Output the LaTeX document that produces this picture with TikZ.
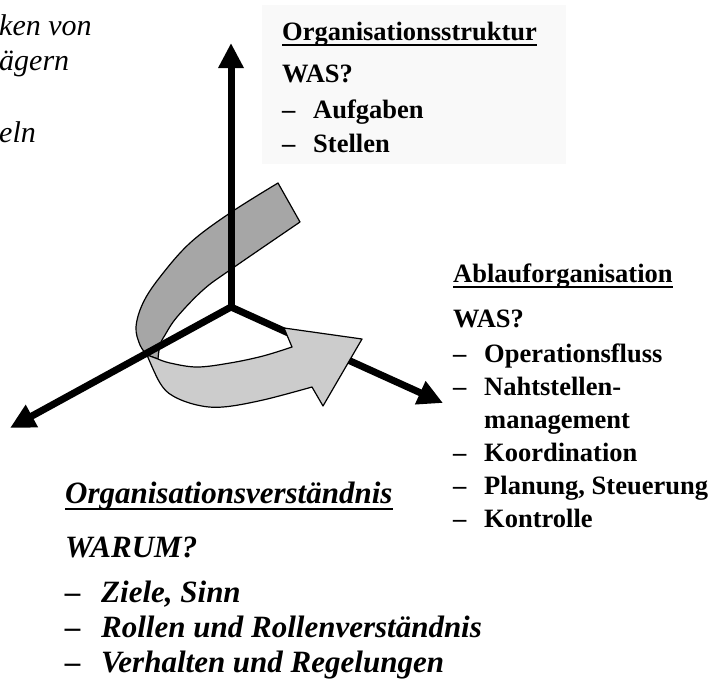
\documentclass[tikz,border=0pt]{standalone}
\usepackage{fontspec}
\setmainfont{Liberation Serif}
\usetikzlibrary{arrows.meta}
\definecolor{ribdark}{HTML}{A6A6A6}
\definecolor{riblight}{HTML}{CCCCCC}
\definecolor{boxbg}{HTML}{F9F9F9}
\begin{document}
\begin{tikzpicture}[x=1pt,y=-1pt,
  axisline/.style={line width=7pt, line cap=round, -{Triangle[width=24pt,length=25pt]}},
  ribbon/.style={draw=black, line width=1.2pt, line join=round},
  rtxt/.style={anchor=base west, inner sep=0pt, font=\fontsize{26.5}{32}\selectfont\bfseries},
  btxt/.style={anchor=base west, inner sep=0pt, font=\fontsize{31}{36}\selectfont\bfseries\itshape},
  ltxt/.style={anchor=base west, inner sep=0pt, font=\fontsize{30}{34}\selectfont\itshape},
  uline/.style={line width=2pt},
]
\useasboundingbox (0,0) rectangle (714,681);

% background box of Organisationsstruktur
\fill[boxbg] (262,5) rectangle (566,164);

% axes coordinates
\coordinate (O) at (231,307);
\coordinate (tipUp) at (231,43);
\coordinate (tipLeft) at (10,428);
\coordinate (tipRight) at (443,403);

% right axis (under ribbon)
\draw[axisline] (O) -- (tipRight);

% ribbon: dark upper part
\path[ribbon, fill=ribdark]
  plot[smooth, tension=0.6] coordinates {(278,183) (230,213) (190,243) (160,277) (143,303) (136,327) (140,345) (147,355)}
  -- plot[smooth, tension=0.6] coordinates {(158,359) (160,345) (165,335) (177,317) (203,290) (230,270) (300,222)}
  -- cycle;
% ribbon: light lower part with arrow head
\path[ribbon, fill=riblight]
  plot[smooth, tension=0.6] coordinates {(147,355) (160,383) (173,396) (197,405) (223,407) (263,400) (312,387)}
  -- (323,406) -- (362,339) -- (284,328) -- (292,347)
  -- plot[smooth, tension=0.6] coordinates {(292,347) (263,356) (230,363) (197,367) (170,363) (158,359)}
  -- cycle;

% vertical and left axes (over ribbon)
\draw[axisline] (O) -- (tipUp);
\draw[axisline] (O) -- (tipLeft);

% top-left fragments
\node[ltxt] (tl1) at (-1,35) {ken von};
\node[ltxt] (tl2) at (-1,70) {ägern};
\node[ltxt] (tl3) at (-1,142) {eln};

% Organisationsstruktur
\node[rtxt] (os) at (282,40) {Organisationsstruktur};
\draw[uline] ([yshift=-5pt]os.base west) -- ([yshift=-5pt]os.base east);
\node[rtxt] (osw) at (282,82) {WAS?};
\node[rtxt] (osd1) at (282,118) {–};
\node[rtxt] (os1) at (313,118) {Aufgaben};
\node[rtxt] (osd2) at (282,152) {–};
\node[rtxt] (os2) at (313,152) {Stellen};

% Ablauforganisation
\node[rtxt] (ab) at (453,282) {Ablauforganisation};
\draw[uline] ([yshift=-5pt]ab.base west) -- ([yshift=-5pt]ab.base east);
\node[rtxt] (abw) at (453,327) {WAS?};
\node[rtxt] (abd1) at (453,362) {–};
\node[rtxt] (ab1) at (484,362) {Operationsfluss};
\node[rtxt] (abd2) at (453,395) {–};
\node[rtxt] (ab2) at (484,395) {Nahtstellen-};
\node[rtxt] (ab2b) at (484,428) {management};
\node[rtxt] (abd3) at (453,461) {–};
\node[rtxt] (ab3) at (484,461) {Koordination};
\node[rtxt] (abd4) at (453,494) {–};
\node[rtxt] (ab4) at (484,494) {Planung, Steuerung};
\node[rtxt] (abd5) at (453,527) {–};
\node[rtxt] (ab5) at (484,527) {Kontrolle};

% Organisationsverstaendnis
\node[btxt] (ov) at (65,503) {Organisationsverständnis};
\draw[line width=2.6pt] ([yshift=-6pt]ov.base west) -- ([yshift=-6pt]ov.base east);
\node[btxt] (ovw) at (65,557) {WARUM?};
\node[btxt] (ovd1) at (65,602) {–};
\node[btxt] (ov1) at (101,602) {Ziele, Sinn};
\node[btxt] (ovd2) at (65,637) {–};
\node[btxt] (ov2) at (101,637) {Rollen und Rollenverständnis};
\node[btxt] (ovd3) at (65,672) {–};
\node[btxt] (ov3) at (101,672) {Verhalten und Regelungen};
\end{tikzpicture}
\end{document}
